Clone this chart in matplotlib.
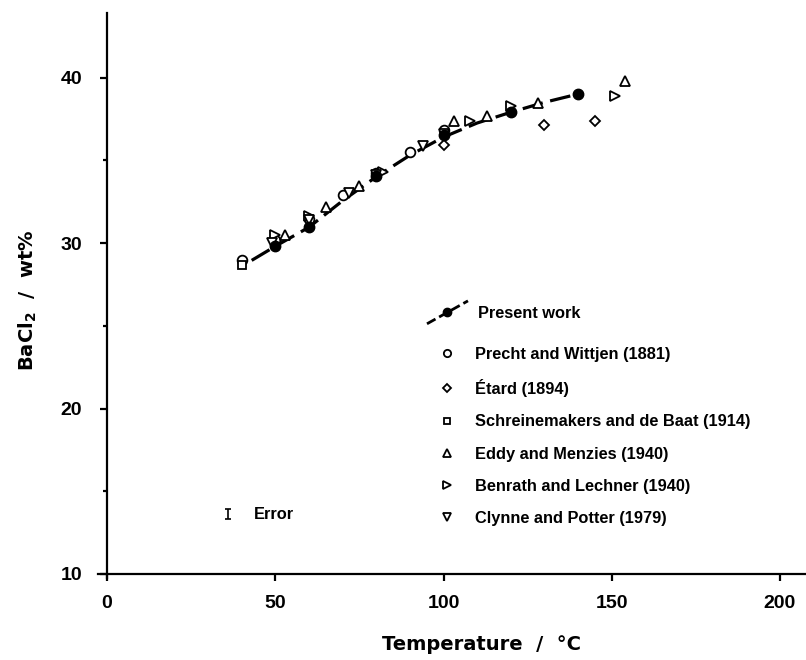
import numpy as np
import matplotlib
matplotlib.use("Agg")
import matplotlib.pyplot as plt
from matplotlib.lines import Line2D
from matplotlib.legend_handler import HandlerLine2D
from matplotlib.font_manager import FontProperties

# solubility of BaCl2 in water, wt% vs temperature
present_t = [50, 60, 80, 100, 120, 140]
present_w = [29.8, 30.95, 34.05, 36.5, 37.9, 39.0]

curve_t = [43, 50, 60, 70, 80, 90, 100, 110, 120, 130, 140]
curve_w = [28.95, 29.8, 30.95, 32.55, 34.0, 35.3, 36.4, 37.25, 37.9, 38.5, 39.0]

precht_t = [40, 50, 60, 70, 80, 90, 100]
precht_w = [29.0, 30.2, 31.45, 32.9, 34.2, 35.5, 36.8]

etard_t = [100, 130, 145]
etard_w = [35.9, 37.1, 37.35]

schrein_t = [40]
schrein_w = [28.7]

eddy_t = [53, 65, 75, 103, 113, 128, 154]
eddy_w = [30.5, 32.15, 33.45, 37.35, 37.7, 38.45, 39.8]

benrath_t = [50, 60, 82, 108, 120, 151]
benrath_w = [30.5, 31.65, 34.3, 37.4, 38.25, 38.9]

clynne_t = [49, 60, 72, 80, 94, 100]
clynne_w = [30.0, 31.4, 33.05, 34.1, 35.85, 36.6]

labels = ["Precht and Wittjen (1881)", "Étard (1894)",
          "Schreinemakers and de Baat (1914)", "Eddy and Menzies (1940)",
          "Benrath and Lechner (1940)", "Clynne and Potter (1979)"]

W, H = 806, 660
fig = plt.figure(figsize=(W / 100, H / 100), dpi=100)

# pixel calibration of the original axes
x0px, xscale = 107, 3.365
y10px, yscale = 574, 16.55
xmin, xmax = -2.7, 208
ymin, ymax = 9.75, 43.9
left = (x0px + xmin * xscale) / W
right = (x0px + xmax * xscale) / W
bottom = (H - (y10px + (10 - ymin) * yscale)) / H
top = (H - (y10px - (ymax - 10) * yscale)) / H
ax = fig.add_axes([left, bottom, right - left, top - bottom])
ax.set_xlim(xmin, xmax)
ax.set_ylim(ymin, ymax)

for s in ["top", "right"]:
    ax.spines[s].set_visible(False)
ax.spines["left"].set_position(("data", 0))
ax.spines["bottom"].set_position(("data", 10))
ax.spines["left"].set_linewidth(1.6)
ax.spines["bottom"].set_linewidth(1.6)

tickfont = {"family": ["Liberation Sans", "DejaVu Sans"], "weight": "bold", "size": 14}
ax.set_xticks([0, 50, 100, 150, 200])
ax.set_yticks([10, 20, 30, 40])
ax.set_yticks([15, 25, 35], minor=True)
ax.set_xticklabels(["0", "50", "100", "150", "200"], fontdict=tickfont)
ax.set_yticklabels(["10", "20", "30", "40"], fontdict=tickfont)
ax.tick_params(which="major", direction="out", length=5, width=1.6, pad=10)
ax.tick_params(which="minor", direction="out", length=3, width=1.6)
ax.tick_params(axis="y", pad=13)

lab = {"family": "DejaVu Sans", "weight": "bold", "size": 14}
ax.set_xlabel("Temperature  /  °C", fontdict=lab)
ax.set_ylabel(r"BaCl$_\mathbf{2}$  /  wt%", fontdict=lab)
ax.xaxis.set_label_coords((481 - left * W) / ((right - left) * W), -(645 - (1 - bottom) * H) / ((top - bottom) * H))
ax.yaxis.set_label_coords((28 - left * W) / ((right - left) * W), ((1 - bottom) * H - 300) / ((top - bottom) * H))
ax.xaxis.label.set_va("center")
ax.yaxis.label.set_va("center")

ms, mew = 7, 1.3
ax.plot(curve_t, curve_w, color="black", lw=2.3, dashes=(6.5, 2.4), zorder=2)
ax.plot(present_t, present_w, "o", color="black", ms=7.5, zorder=4)
h_pr, = ax.plot(precht_t, precht_w, "o", mfc="white", mec="black", ms=ms, mew=mew, ls="none")
h_et, = ax.plot(etard_t, etard_w, "D", mfc="white", mec="black", ms=ms - 1.5, mew=mew, ls="none")
h_sc, = ax.plot(schrein_t, schrein_w, "s", mfc="white", mec="black", ms=ms - 1.5, mew=mew, ls="none")
h_ed, = ax.plot(eddy_t, eddy_w, "^", mfc="white", mec="black", ms=ms, mew=mew, ls="none")
h_be, = ax.plot(benrath_t, benrath_w, ">", mfc="white", mec="black", ms=ms, mew=mew, ls="none")
h_cl, = ax.plot(clynne_t, clynne_w, "v", mfc="white", mec="black", ms=ms, mew=mew, ls="none")

legfont = {"family": ["Liberation Sans", "DejaVu Sans"], "weight": "bold", "size": 11.8}
fp = FontProperties(**legfont)

# error indicator
ax.errorbar([36], [13.6], yerr=[0.3], fmt="none", ecolor="black", elinewidth=1.2, capsize=2, capthick=1.2)
ax.text(43.5, 13.6, "Error", va="center", ha="left", fontproperties=fp)


class SlantHandler(HandlerLine2D):
    def create_artists(self, legend, orig_handle, xdescent, ydescent, width, height, fontsize, trans):
        arts = super().create_artists(legend, orig_handle, xdescent, ydescent, width, height, fontsize, trans)
        for a in arts:
            if isinstance(a, Line2D):
                y = a.get_ydata()
                a.set_ydata(np.linspace(-ydescent - 0.55 * height, -ydescent + 1.45 * height, len(y)))
        return arts


pw = Line2D([], [], color="black", lw=2.0, dashes=(3.5, 1.5), marker="o", ms=6)
leg1 = fig.legend([pw], ["Present work"], handler_map={pw: SlantHandler()},
                  loc="center left", bbox_to_anchor=(427 / W, 1 - 313 / H),
                  frameon=False, prop=fp, handlelength=2.5, handletextpad=0.6,
                  borderpad=0, borderaxespad=0)
leg2 = fig.legend([h_pr, h_et, h_sc, h_ed, h_be, h_cl], labels,
                  loc="upper left", bbox_to_anchor=(436 / W, 1 - 347 / H),
                  frameon=False, prop=fp, markerscale=0.75, handlelength=1.3,
                  handletextpad=1.1, labelspacing=1.05, borderpad=0, borderaxespad=0)

fig.savefig("out.png", dpi=100)
